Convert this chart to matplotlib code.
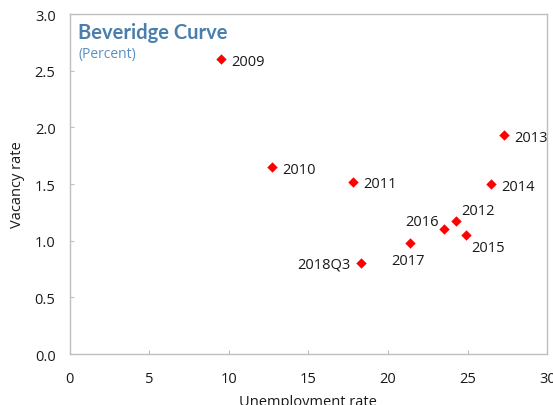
import matplotlib
matplotlib.use("Agg")
import matplotlib.pyplot as plt

# Beveridge curve: unemployment vs vacancy rate by year
years = ["2009", "2010", "2011", "2012", "2013", "2014", "2015", "2016", "2017", "2018Q3"]
unemployment = [9.5, 12.7, 17.8, 24.25, 27.3, 26.45, 24.9, 23.5, 21.4, 18.3]
vacancy = [2.6, 1.65, 1.52, 1.17, 1.93, 1.50, 1.05, 1.10, 0.98, 0.80]

# label placement (pixel offsets, alignment) per point
label_pos = {
    "2009": (10, -2, "left", "center"),
    "2010": (10, -2, "left", "center"),
    "2011": (10, -2, "left", "center"),
    "2012": (6, 11, "left", "center"),
    "2013": (10, -2, "left", "center"),
    "2014": (10, -2, "left", "center"),
    "2015": (5, -12, "left", "center"),
    "2016": (-5, 8, "right", "center"),
    "2017": (-2, -18, "center", "center"),
    "2018Q3": (-10, -1, "right", "center"),
}

plt.rcParams["font.family"] = ["Open Sans", "DejaVu Sans"]

fig = plt.figure(figsize=(5.53, 4.06), dpi=100)
ax = fig.add_axes([0.1257, 0.1256, 0.9897 - 0.1257, 0.963 - 0.1256])

ax.scatter(unemployment, vacancy, marker="D", s=28, color="#ff0000", zorder=3, linewidths=0)

for x, y, lab in zip(unemployment, vacancy, years):
    dx, dy, ha, va = label_pos[lab]
    ax.annotate(lab, (x, y), xytext=(dx, dy), textcoords="offset pixels",
                ha=ha, va=va, fontsize=10.5, color="#1a1a1a")

ax.set_xlim(0, 30)
ax.set_ylim(0, 3.0)
ax.set_xticks([0, 5, 10, 15, 20, 25, 30])
ax.set_yticks([0.0, 0.5, 1.0, 1.5, 2.0, 2.5, 3.0])
ax.set_yticklabels([f"{v:.1f}" for v in [0.0, 0.5, 1.0, 1.5, 2.0, 2.5, 3.0]])

for side in ["left", "bottom", "right", "top"]:
    ax.spines[side].set_color("#bfbfbf")
    ax.spines[side].set_linewidth(1.0)

ax.tick_params(axis="both", direction="in", length=3, width=0.8, color="#bfbfbf",
               labelsize=10.5, labelcolor="#1a1a1a")
ax.tick_params(axis="x", pad=12)
ax.tick_params(axis="y", pad=10)

ax.set_xlabel("Unemployment rate", fontsize=10.5, color="#1a1a1a", labelpad=6)
ax.set_ylabel("Vacancy rate", fontsize=10.5, color="#1a1a1a", labelpad=7)

ax.text(0.018, 0.978, "Beveridge Curve", transform=ax.transAxes, ha="left", va="top",
        fontsize=14.5, fontweight="bold", color="#4a7fad", family=["Lato", "DejaVu Sans"])
ax.text(0.018, 0.905, "(Percent)", transform=ax.transAxes, ha="left", va="top",
        fontsize=10, color="#5b8fc2")

fig.savefig("out.png", dpi=100)
